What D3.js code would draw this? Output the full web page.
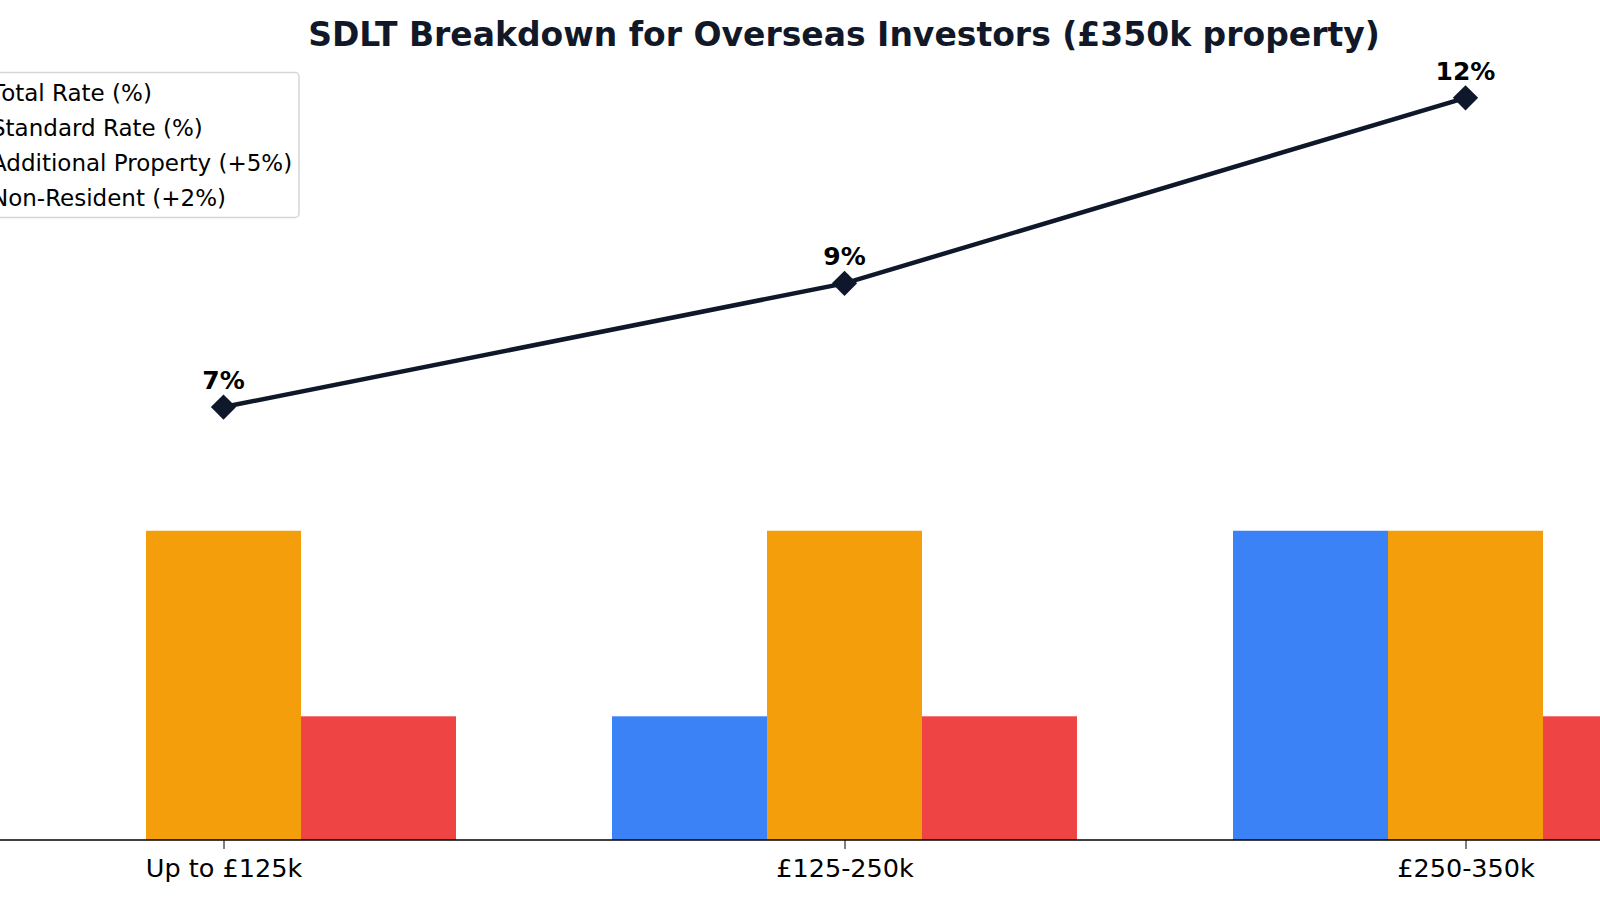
<!DOCTYPE html>
<html>
<head>
<meta charset="utf-8">
<script src="https://cdn.jsdelivr.net/npm/d3@7"></script>
<style>
	html, body { margin: 0; padding: 0; background: #fff; }
	svg { display: block; font-family: "DejaVu Sans", sans-serif; }
</style>
</head>
<body>
<svg id="chart"></svg>
<script>
// data
const categories = ["Up to £125k", "£125-250k", "£250-350k"];
const standard_rate = [0, 2, 5];
const additional_property = [5, 5, 5];
const non_resident = [2, 2, 2];
const total_rate = [7, 9, 12];
const legend_labels = ["Total Rate (%)", "Standard Rate (%)", "Additional Property (+5%)", "Non-Resident (+2%)"];

const params = {
		width: 1600,
		height: 900,
		bar_width: 155,
		blue: "#3b82f6",
		orange: "#f59e0b",
		red: "#ef4444",
		navy: "#0f172a"
	},
	svg = d3.select('#chart')
		.attr("width", params.width)
		.attr("height", params.height);

const x = d3.scalePoint().domain(categories).range([223.5, 1465.5]),
	y = d3.scaleLinear().domain([0, 12]).range([840, 97.8]);

// title
svg.append("text")
	.attr("x", 844)
	.attr("y", 46)
	.attr("text-anchor", "middle")
	.attr("font-size", 33)
	.attr("font-weight", "bold")
	.attr("fill", "#111827")
	.text("SDLT Breakdown for Overseas Investors (£350k property)");

// grouped bars: standard left, additional centre, non-resident right
const series = [
	{values: standard_rate, color: params.blue, offset: -1},
	{values: additional_property, color: params.orange, offset: 0},
	{values: non_resident, color: params.red, offset: 1}
];

series.forEach(s => {
	svg.append("g").selectAll("rect")
		.data(s.values)
		.join("rect")
		.attr("x", (d, i) => x(categories[i]) + s.offset * params.bar_width - params.bar_width / 2)
		.attr("y", d => y(d))
		.attr("width", params.bar_width)
		.attr("height", d => y(0) - y(d))
		.attr("fill", s.color);
});

// x axis
const xAxis = svg.append("g")
	.attr("transform", `translate(0,${y(0)})`)
	.call(d3.axisBottom(x).tickSize(9).tickPadding(10));
xAxis.select(".domain").remove();
xAxis.append("line")
	.attr("x1", 0).attr("x2", params.width)
	.attr("stroke", "#000").attr("stroke-width", 1.6);
xAxis.selectAll(".tick line").attr("stroke", "#000").attr("stroke-width", 1);
xAxis.selectAll(".tick text")
	.attr("font-size", 25.5)
	.attr("font-family", "DejaVu Sans")
	.attr("fill", "#000");

// total line
const line = d3.line()
	.x((d, i) => x(categories[i]))
	.y(d => y(d));

svg.append("path")
	.datum(total_rate)
	.attr("d", line)
	.attr("fill", "none")
	.attr("stroke", params.navy)
	.attr("stroke-width", 4.5);

svg.append("g").selectAll("path")
	.data(total_rate)
	.join("path")
	.attr("d", d3.symbol(d3.symbolSquare, 320))
	.attr("transform", (d, i) => `translate(${x(categories[i])},${y(d)}) rotate(45)`)
	.attr("fill", params.navy);

svg.append("g").selectAll("text")
	.data(total_rate)
	.join("text")
	.attr("x", (d, i) => x(categories[i]))
	.attr("y", d => y(d) - 18)
	.attr("text-anchor", "middle")
	.attr("font-size", 25)
	.attr("font-weight", "bold")
	.attr("fill", "#000")
	.text(d => d + "%");

// legend, its handles sit past the left edge like in the reference
const legend = svg.append("g").attr("transform", "translate(-74,72.5)");
legend.append("rect")
	.attr("x", 0).attr("y", 0)
	.attr("width", 373).attr("height", 145)
	.attr("rx", 4)
	.attr("fill", "#fff")
	.attr("stroke", "#d6d6d6")
	.attr("stroke-width", 1.5);

const legend_colors = [params.navy, params.blue, params.orange, params.red];
legend_labels.forEach((label, i) => {
	const row = legend.append("g").attr("transform", `translate(0,${20 + i * 35})`);
	if (i == 0) {
		row.append("line").attr("x1", 12).attr("x2", 52)
			.attr("stroke", legend_colors[i]).attr("stroke-width", 4);
	} else {
		row.append("rect").attr("x", 12).attr("y", -7).attr("width", 40).attr("height", 14)
			.attr("fill", legend_colors[i]);
	}
	row.append("text")
		.attr("x", 65)
		.attr("y", 8)
		.attr("font-size", 23)
		.attr("fill", "#000")
		.text(label);
});
</script>
</body>
</html>
